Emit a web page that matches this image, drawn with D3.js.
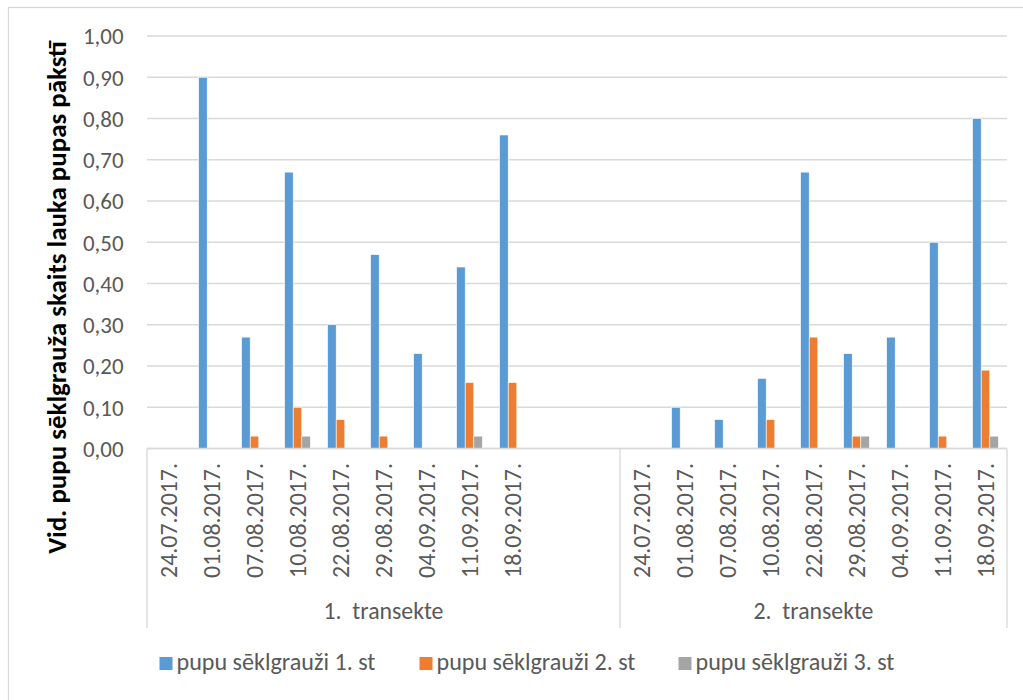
<!DOCTYPE html>
<html>
<head>
<meta charset="utf-8">
<script src="https://cdn.jsdelivr.net/npm/d3@7/dist/d3.min.js"></script>
<style>
  html, body { margin: 0; padding: 0; background: #fff; }
  svg { display: block; }
  text { white-space: pre; }
</style>
</head>
<body>
<svg id="chart" width="1023" height="700"></svg>
<script>
// ---------------- DATA ----------------
const groups = ["1.  transekte", "2.  transekte"];
const dates = ["24.07.2017.", "01.08.2017.", "07.08.2017.", "10.08.2017.", "22.08.2017.",
               "29.08.2017.", "04.09.2017.", "11.09.2017.", "18.09.2017."];
// category rows: [group, date]; transect 1 has two empty rows at its end
const categories = [
  ...dates.map(d => [groups[0], d]), [groups[0], ""], [groups[0], ""],
  ...dates.map(d => [groups[1], d])
];
const seriesNames = ["pupu sēklgrauži 1. st", "pupu sēklgrauži 2. st", "pupu sēklgrauži 3. st"];
const st1 = [0, 0.90, 0.27, 0.67, 0.30, 0.47, 0.23, 0.44, 0.76, null, null,
             0, 0.10, 0.07, 0.17, 0.67, 0.23, 0.27, 0.50, 0.80];
const st2 = [0, 0, 0.03, 0.10, 0.07, 0.03, 0, 0.16, 0.16, null, null,
             0, 0, 0, 0.07, 0.27, 0.03, 0, 0.03, 0.19];
const st3 = [0, 0, 0, 0.03, 0, 0, 0, 0.03, 0, null, null,
             0, 0, 0, 0, 0, 0.03, 0, 0, 0.03];
const seriesValues = [st1, st2, st3];
const yTicks = [0, 0.1, 0.2, 0.3, 0.4, 0.5, 0.6, 0.7, 0.8, 0.9, 1.0];
const yTitle = "Vid. pupu sēklgrauža skaits lauka pupas pākstī";
const colors = ["#5B9BD5", "#ED7D31", "#A5A5A5"];

// ---------------- LAYOUT ----------------
const FONT = "Carlito, Calibri, 'Liberation Sans', Arial, sans-serif";
const svg = d3.select("#chart");
const plot = { left: 147, right: 1007, top: 36, bottom: 448.5 };
const axisBottom = 628;

function fitSize(sample, target, weight) {
  const t = svg.append("text").attr("font-family", FONT).attr("font-size", 20)
    .attr("font-weight", weight || "normal").text(sample);
  const w = t.node().getComputedTextLength();
  t.remove();
  return 20 * target / w;
}

const fsTick = fitSize("1,00", 40.6);
const fsDate = fitSize("24.07.2017.", 115);
const fsGroup = fitSize("1.  transekte", 120);
const fsLegend = fitSize("pupu sēklgrauži 1. st", 199);
const fsTitle = fitSize(yTitle, 513, "bold");

// outer chart border
svg.append("rect").attr("x", 8.5).attr("y", 7.5).attr("width", 1100).attr("height", 800)
  .attr("fill", "none").attr("stroke", "#D9D9D9").attr("stroke-width", 1.3);

const x = d3.scaleBand().domain(d3.range(categories.length))
  .range([plot.left, plot.right]).paddingInner(0).paddingOuter(0);
const xs = d3.scaleBand().domain(d3.range(seriesNames.length))
  .range([0, x.bandwidth()]).paddingInner(0).paddingOuter(1);
const y = d3.scaleLinear().domain([0, 1]).range([plot.bottom, plot.top]);

const locale = d3.formatLocale({ decimal: ",", thousands: " ", grouping: [3], currency: ["", ""] });
const fmt = locale.format(".2f");

// gridlines
svg.append("g").selectAll("line").data(yTicks).join("line")
  .attr("x1", plot.left).attr("x2", plot.right)
  .attr("y1", d => y(d)).attr("y2", d => y(d))
  .attr("stroke", "#D9D9D9").attr("stroke-width", 1.3);

// y tick labels
svg.append("g").selectAll("text").data(yTicks).join("text")
  .attr("x", 123.5).attr("y", d => y(d)).attr("dy", "0.36em")
  .attr("text-anchor", "end").attr("font-family", FONT).attr("font-size", fsTick)
  .attr("fill", "#595959").text(d => fmt(d));

// bars
const barData = [];
seriesValues.forEach((vals, s) => vals.forEach((v, i) => { if (v !== null) barData.push({ s, i, v }); }));
svg.append("g").selectAll("rect").data(barData).join("rect")
  .attr("x", d => x(d.i) + xs(d.s))
  .attr("width", xs.bandwidth())
  .attr("y", d => y(d.v))
  .attr("height", d => y(0) - y(d.v))
  .attr("fill", d => colors[d.s])
  .attr("stroke", "#fff").attr("stroke-width", 0.6);

// category axis lines
const groupBounds = groups.map(g => {
  const idx = categories.map((c, i) => c[0] === g ? i : -1).filter(i => i >= 0);
  return { g, x0: x(idx[0]), x1: x(idx[idx.length - 1]) + x.bandwidth() };
});
const dividers = [plot.left, ...groupBounds.map(b => b.x1)];
svg.append("line").attr("x1", plot.left).attr("x2", plot.right)
  .attr("y1", plot.bottom).attr("y2", plot.bottom)
  .attr("stroke", "#D9D9D9").attr("stroke-width", 1.3);
svg.append("g").selectAll("line").data(dividers).join("line")
  .attr("x1", d => d).attr("x2", d => d).attr("y1", plot.bottom).attr("y2", axisBottom)
  .attr("stroke", "#D9D9D9").attr("stroke-width", 1.3);

// date labels
svg.append("g").selectAll("text").data(categories.map((c, i) => ({ c, i })).filter(d => d.c[1] !== ""))
  .join("text")
  .attr("transform", d => `translate(${x(d.i) + x.bandwidth() / 2},463) rotate(-90)`)
  .attr("dy", "0.36em").attr("text-anchor", "end")
  .attr("font-family", FONT).attr("font-size", fsDate).attr("fill", "#595959")
  .text(d => d.c[1]);

// group labels
svg.append("g").selectAll("text").data(groupBounds).join("text")
  .attr("x", d => (d.x0 + d.x1) / 2).attr("y", 619)
  .attr("text-anchor", "middle").attr("font-family", FONT).attr("font-size", fsGroup)
  .attr("fill", "#595959").text(d => d.g);

// y axis title
svg.append("text")
  .attr("transform", "translate(66,297.5) rotate(-90)")
  .attr("text-anchor", "middle").attr("font-family", FONT).attr("font-weight", "bold")
  .attr("font-size", fsTitle).attr("fill", "#000").text(yTitle);

// legend
const legendX = [159.5, 419.5, 678.5];
const lg = svg.append("g").selectAll("g").data(seriesNames).join("g")
  .attr("transform", (d, i) => `translate(${legendX[i]},657)`);
lg.append("rect").attr("width", 13).attr("height", 13).attr("fill", (d, i) => colors[i]);
lg.append("text").attr("x", 17).attr("y", 13).attr("font-family", FONT)
  .attr("font-size", fsLegend).attr("fill", "#595959").text(d => d);
</script>
</body>
</html>
